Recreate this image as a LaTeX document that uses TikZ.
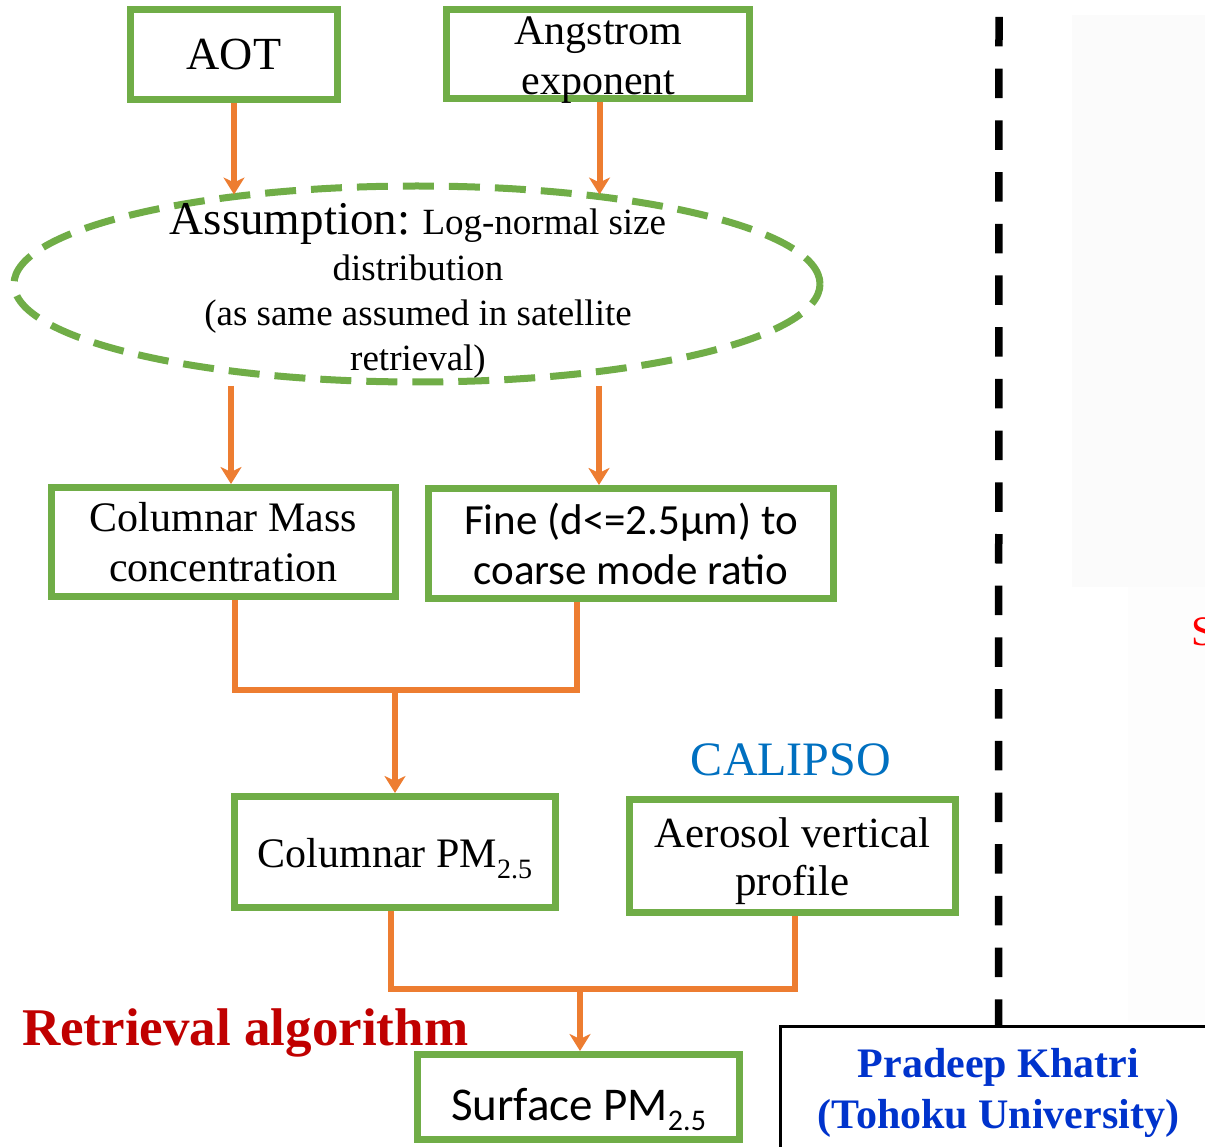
\documentclass[tikz,border=0pt]{standalone}
\usepackage{fontspec}
\setmainfont{Liberation Serif}
\newfontfamily\calibrifont{Carlito}
\usetikzlibrary{arrows.meta,shapes.geometric,calc}

\definecolor{boxgreen}{HTML}{70AD47}
\definecolor{flow}{HTML}{ED7D31}
\definecolor{calblue}{HTML}{0070C0}
\definecolor{darkred}{HTML}{C00000}
\definecolor{authblue}{HTML}{0033CC}
\definecolor{panelgray}{HTML}{FBFBFB}
\definecolor{panelgray2}{HTML}{FDFDFD}

\newcommand{\setfs}[2]{\fontsize{#1}{#2}\selectfont}

\tikzset{
  gbox/.style={draw=boxgreen, line width=7pt, fill=white, inner sep=0pt, align=center},
  flowline/.style={draw=flow, line width=6pt},
  flowarrow/.style={flowline, -{Stealth[length=17pt,width=21pt,inset=5pt]}},
  lbl/.style={inner sep=0pt, align=center},
}

\begin{document}
\begin{tikzpicture}[x=1pt,y=-1pt]
\useasboundingbox (0,0) rectangle (1205,1147);
\fill[white] (0,0) rectangle (1205,1147);

% faint panel on the right
\fill[panelgray] (1072,15) rectangle (1205,587);
\fill[panelgray2] (1128,587) rectangle (1205,1022);
\node[lbl, anchor=base west, text=red, font=\setfs{42}{45}] (sfrag) at (1191,645) {S};

% inputs
\node[gbox, minimum width=207pt, minimum height=90pt, font=\setfs{46}{50}] (aot) at (234,54.5) {AOT};
\node[gbox, minimum width=303pt, minimum height=89pt] (ang) at (598,54) {};
\node[lbl, font=\setfs{42}{50}] (angT) at (598.5,60) {Angstrom\\exponent};

% assumption
\node[ellipse, draw=boxgreen, line width=7pt, dash pattern=on 31pt off 15pt,
      minimum width=806pt, minimum height=196pt, inner sep=0pt] (ell) at (417,284) {};
\node[lbl, font=\setfs{37}{45.3}] (ellT) at (418,291.3)
  {{\setfs{47}{45.3}Assumption:} Log-normal size\\distribution\\(as same assumed in satellite\\retrieval)};

\draw[flowarrow] (aot.south) -- (aot.south |- ell.155);
\draw[flowarrow] ([xshift=1.5pt]ang.south) -- ([xshift=1.5pt]ang.south |- ell.25);

% derived quantities
\node[gbox, minimum width=344pt, minimum height=109pt, font=\setfs{42}{50}] (cmass) at (223.5,542)
  {Columnar Mass\\concentration};
\node[gbox, minimum width=405pt, minimum height=110pt, font=\calibrifont\setfs{43}{50}] (fine) at (631,543.5)
  {Fine (d<=2.5µm) to\\coarse mode ratio};

\coordinate (e1) at (231,386);
\coordinate (e2) at (599,386);
\draw[flowarrow] (e1) -- (e1 |- cmass.north);
\draw[flowarrow] (e2) -- (e2 |- fine.north);

% columnar PM2.5
\node[gbox, minimum width=321pt, minimum height=111pt] (cpm) at (395,852) {};
\node[lbl, anchor=base, font=\setfs{42}{50}] (cpmT) at (395,867)
  {Columnar PM\raisebox{-11pt}{\setfs{28}{30}2.5}};

\coordinate (j1) at (395,690);
\draw[flowline] ([xshift=11pt]cmass.south) |- (j1) -| ([xshift=-54pt]fine.south);
\draw[flowarrow] (j1) -- (j1 |- cpm.north);

% CALIPSO profile
\node[lbl, anchor=base, text=calblue, font=\setfs{48}{50}] (cal) at (791,775) {CALIPSO};
\node[gbox, minimum width=326pt, minimum height=113pt] (aer) at (792.5,856) {};
\node[lbl, font=\setfs{43}{48}] (aerT) at (792.5,861) {Aerosol vertical\\profile};

% surface PM2.5
\node[gbox, minimum width=322pt, minimum height=85pt] (surf) at (578.5,1097) {};
\node[lbl, anchor=base, font=\calibrifont\setfs{47}{50}] (surfT) at (578.5,1120)
  {Surface PM\raisebox{-10pt}{\setfs{30}{30}2.5}};

\coordinate (j2) at (580,989);
\draw[flowline] ([xshift=-4pt]cpm.south) |- (j2) -| ([xshift=2pt]aer.south);
\draw[flowarrow] (j2) -- (j2 |- surf.north);

\node[lbl, anchor=base west, text=darkred, font=\bfseries\setfs{53}{55}] (ret) at (22,1045) {Retrieval algorithm};

% divider and author box
\node[draw=black, line width=3pt, fill=white, minimum width=436pt, minimum height=133pt,
      inner sep=0pt, align=center, text=authblue, font=\bfseries\setfs{42}{51}] (pk) at (998.5,1093)
  {Pradeep Khatri\\(Tohoku University)};
\coordinate (dtop) at (999,17);
\draw[line width=7.5pt, dash pattern=on 29.5pt off 22.2pt] (dtop) -- (pk.north);
\end{tikzpicture}
\end{document}
